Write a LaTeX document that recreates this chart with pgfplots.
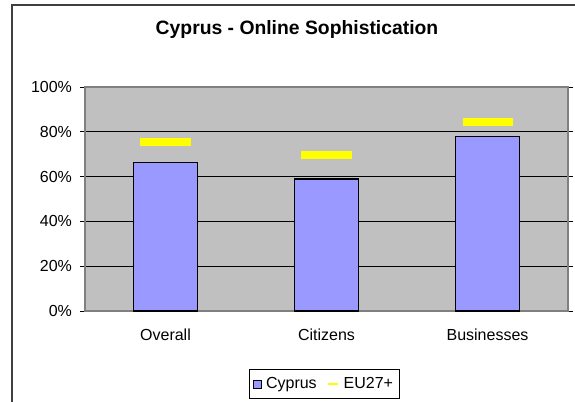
\documentclass[border=0pt]{standalone}
\usepackage{pgfplots}
\pgfplotsset{compat=1.18}
\usepackage{fontspec}
\setmainfont{Liberation Sans}
\definecolor{barcol}{HTML}{9999FF}
\definecolor{plotbg}{HTML}{C0C0C0}
\definecolor{eucol}{HTML}{FFFF00}
\definecolor{axgray}{HTML}{808080}
\definecolor{bordergray}{HTML}{404040}
\begin{document}
\begin{tikzpicture}[x=0.75pt,y=0.75pt]
\useasboundingbox (0,0) rectangle (575,401);
\draw[bordergray,line width=1.5pt] (11.5,-2) -- (11.5,395.5) -- (580,395.5);
\node[font=\bfseries\fontsize{14.5}{17}\selectfont] at (297,371) {Cyprus - Online Sophistication};
\begin{axis}[
  at={(63.75pt,67.5pt)}, anchor=south west,
  scale only axis, width=362.25pt, height=168pt,
  xmin=-0.5, xmax=2.5, ymin=0, ymax=100,
  axis background/.style={fill=plotbg},
  axis line style={axgray, line width=1.2pt},
  xtick={0,1,2}, xticklabels={Overall,Citizens,Businesses},
  x tick style={draw=none},
  extra x ticks={-0.5,0.5,1.5,2.5}, extra x tick labels={},
  extra x tick style={tick align=outside, major tick length=3.75pt, tick style={draw=black, line width=0.6pt}, grid=none},
  ytick={0,20,40,60,80,100},
  yticklabels={0\%,20\%,40\%,60\%,80\%,100\%},
  ymajorgrids, major grid style={black, line width=0.7pt},
  y tick style={draw=black, line width=0.6pt},
  tick align=outside, major tick length=3.75pt,
  tick label style={font=\fontsize{12}{14}\selectfont},
  xticklabel style={yshift=-6pt},
  yticklabel style={xshift=-2.5pt},
  legend columns=2,
  legend style={at={(0.496,-0.326)}, anchor=center, draw=black, line width=0.6pt,
    font=\fontsize{12}{14}\selectfont, inner xsep=3pt, inner ysep=4pt,
    /tikz/every odd column/.append style={column sep=1pt},
    /tikz/every even column/.append style={column sep=5pt}},
  legend cell align=left,
]
\addplot[ybar, bar width=48pt, fill=barcol, draw=black, line width=1.1pt,
  legend image code/.code={\draw[fill=barcol,draw=black,line width=0.5pt] (0pt,-3pt) rectangle (6pt,3pt);}]
  coordinates {(0,66.4) (1,58.9) (2,77.8)};
\addlegendentry{Cyprus}
\addplot[only marks, mark=-, mark size=18.75pt, mark options={eucol, line width=6pt, line cap=butt},
  legend image code/.code={\draw[eucol,line width=2.2pt] (0pt,0pt) -- (8pt,0pt);}]
  coordinates {(0,75.6) (1,69.5) (2,84.2)};
\addlegendentry{EU27+}
\end{axis}
\end{tikzpicture}
\end{document}
